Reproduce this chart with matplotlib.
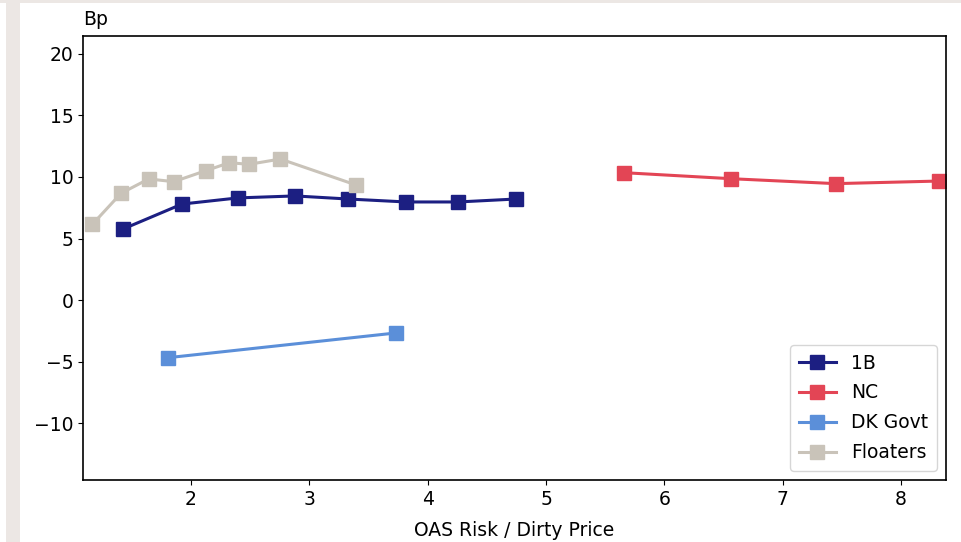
import matplotlib
matplotlib.use("Agg")
import matplotlib.pyplot as plt
from matplotlib.patches import Rectangle

# Data
x_1b = [1.425, 1.924, 2.397, 2.879, 3.327, 3.817, 4.257, 4.747]
y_1b = [5.77, 7.80, 8.30, 8.46, 8.21, 7.97, 7.97, 8.21]

x_nc = [5.658, 6.565, 7.447, 8.32]
y_nc = [10.35, 9.86, 9.46, 9.67]

x_dk = [1.803, 3.730]
y_dk = [-4.69, -2.68]

x_fl = [1.166, 1.408, 1.642, 1.854, 2.124, 2.324, 2.490, 2.755, 3.395]
y_fl = [6.15, 8.67, 9.84, 9.62, 10.51, 11.16, 11.03, 11.46, 9.35]

series = [
    ("1B", x_1b, y_1b, "#1c1f82"),
    ("NC", x_nc, y_nc, "#e34555"),
    ("DK Govt", x_dk, y_dk, "#5b8fd9"),
    ("Floaters", x_fl, y_fl, "#c9c3b9"),
]

FS = 13.5
plt.rcParams['font.family'] = ['DejaVu Sans']
fig = plt.figure(figsize=(9.61, 5.42), dpi=100)
fig.patch.set_facecolor("white")

# frame strips of the screenshot
fig.patches.append(Rectangle((6/961, 0), 14/961, 1, transform=fig.transFigure,
                             facecolor="#ece7e4", edgecolor="none", zorder=-10))
fig.patches.append(Rectangle((0, 1 - 3/542), 1, 3/542, transform=fig.transFigure,
                             facecolor="#ece7e4", edgecolor="none", zorder=-10))

ax = fig.add_axes([83/961, (542-480)/542, (946-83)/961, (480-36)/542])

for name, xs, ys, c in series:
    ax.plot(xs, ys, color=c, lw=2.2, marker="s", ms=9.5, label=name)

ax.set_xlim(1.087, 8.38)
ax.set_ylim(-14.63, 21.46)
ax.set_xticks([2, 3, 4, 5, 6, 7, 8])
ax.set_yticks([-10, -5, 0, 5, 10, 15, 20])
ax.tick_params(labelsize=FS)
for s in ax.spines.values():
    s.set_linewidth(1.2)
ax.set_xlabel("OAS Risk / Dirty Price", fontsize=FS, labelpad=9)
ax.text(0.0, 1.015, "Bp", transform=ax.transAxes, fontsize=FS, ha="left", va="bottom")

ax.legend(loc="lower right", fontsize=FS, handlelength=2, labelspacing=0.58,
          borderpad=0.45, borderaxespad=0.5)

fig.savefig("out.png", dpi=100)
